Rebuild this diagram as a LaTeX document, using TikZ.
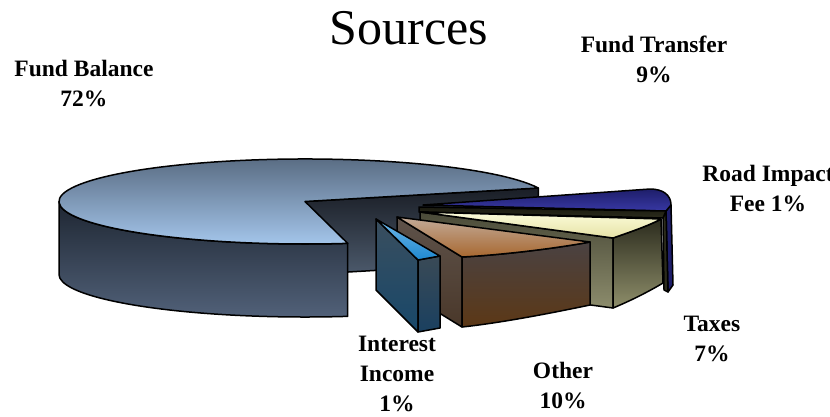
\documentclass[tikz,border=0pt]{standalone}
\usepackage{fontspec}
\setmainfont{Liberation Serif}
\begin{document}
\begin{tikzpicture}[x=1pt,y=-1pt,line join=round,
  outline/.style={draw=black,line width=1.5pt},
  lbl/.style={font=\bfseries\fontsize{23.5}{30}\selectfont,align=center,inner sep=0pt},
  ttl/.style={font=\fontsize{50}{50}\selectfont,inner sep=0pt}]
\definecolor{fbTopA}{HTML}{56687E}\definecolor{fbTopB}{HTML}{A6C8EE}
\definecolor{fbWallA}{HTML}{1E2632}\definecolor{fbWallB}{HTML}{52627A}
\definecolor{fbCutA}{HTML}{1A1E26}\definecolor{fbCutB}{HTML}{4C5A6C}
\definecolor{navyA}{HTML}{1E1E6A}\definecolor{navyB}{HTML}{3838A4}
\definecolor{roadA}{HTML}{1A1A10}\definecolor{roadB}{HTML}{2C2C1C}
\definecolor{taxTopA}{HTML}{FCFCDA}\definecolor{taxTopB}{HTML}{E6E2A6}
\definecolor{taxRimA}{HTML}{2C2C1E}\definecolor{taxRimB}{HTML}{8E8E6A}
\definecolor{taxCutA}{HTML}{4A4A38}\definecolor{taxCutB}{HTML}{8C8C6C}
\definecolor{othTopA}{HTML}{C2AA98}\definecolor{othTopB}{HTML}{A86830}
\definecolor{othRimA}{HTML}{4A4242}\definecolor{othRimB}{HTML}{5C3816}
\definecolor{othCutA}{HTML}{5E524A}\definecolor{othCutB}{HTML}{4A382A}
\definecolor{intTopA}{HTML}{70B8E8}\definecolor{intTopB}{HTML}{1E88D0}
\definecolor{intCutA}{HTML}{3A4E5E}\definecolor{intCutB}{HTML}{18486A}
\definecolor{intRimA}{HTML}{3A4A56}\definecolor{intRimB}{HTML}{1A4060}
\useasboundingbox (0,0) rectangle (830,416);
\clip (0,0) rectangle (830,416);
% Fund Balance slice
\coordinate (C) at (305,201.5);
\coordinate (R1) at (538.3,188);
\coordinate (L1) at (59,201.5);
\path[outline,top color=fbCutA,bottom color=fbCutB] (C) -- (R1) -- ++(0,73) -- (305,274.5) -- cycle;
\path[outline,top color=fbWallA,bottom color=fbWallB] (L1) arc[start angle=-180,end angle=-280,x radius=246,y radius=42.5] -- ++(0,73) arc[start angle=-280,end angle=-180,x radius=246,y radius=42.5] -- cycle;
\path[outline,top color=fbTopA,bottom color=fbTopB] (C) -- (R1) arc[start angle=-18.5,end angle=-280,x radius=246,y radius=42.5] -- cycle;
% Fund Transfer slice
\path[outline,fill=navyA] (666,211) -- (671,205) -- (673,285) -- (668,292) -- cycle;
\path[outline,top color=navyA,bottom color=navyB] (423,205) -- (650,189) .. controls (663,189) and (671,195) .. (671,205) -- (666,211) -- cycle;
% Road Impact Fee slice
\path[outline,fill=roadB] (663,218) -- (666,211) -- (668,292) -- (664,290) -- cycle;
\path[outline,top color=roadA,bottom color=roadB] (419,207) -- (666,211) -- (663,218) -- (419,212) -- cycle;
% Taxes slice
\path[outline,top color=taxCutA,bottom color=taxCutB] (420,212) -- (613,238) -- (613,308) -- (420,282) -- cycle;
\path[outline,top color=taxRimA,bottom color=taxRimB] (613,238) .. controls (630,232) and (648,226) .. (661,219) -- (663,283) .. controls (648,292) and (630,301) .. (613,308) -- cycle;
\path[outline,top color=taxTopA,bottom color=taxTopB] (420,212) -- (661,219) .. controls (648,226) and (630,232) .. (613,238) -- cycle;
% Other slice
\path[outline,top color=othCutA,bottom color=othCutB] (397,217) -- (462,257) -- (462,327) -- (397,287) -- cycle;
\path[outline,top color=othRimA,bottom color=othRimB] (462,257) .. controls (500,255) and (552,249) .. (590,242) -- (590,305) .. controls (552,313) and (500,323) .. (462,327) -- cycle;
\path[outline,top color=othTopA,bottom color=othTopB] (397,217) -- (590,242) .. controls (552,249) and (500,255) .. (462,257) -- cycle;
% Interest Income slice
\path[outline,top color=intCutA,bottom color=intCutB] (376,219) -- (418,260) -- (418,332) -- (376,290) -- cycle;
\path[outline,top color=intRimA,bottom color=intRimB] (418,260) -- (440,256) -- (440,328) -- (418,332) -- cycle;
\path[outline,top color=intTopA,bottom color=intTopB] (376,219) -- (440,256) -- (418,260) -- cycle;
% labels
\node[ttl] (title) at (409,28) {Sources};
\node[lbl] (fb) at (84,83) {Fund Balance\\72\%};
\node[lbl] (ft) at (654,59) {Fund Transfer\\9\%};
\node[lbl] (rif) at (768,188) {Road Impact\\Fee 1\%};
\node[lbl] (tx) at (712,339) {Taxes\\7\%};
\node[lbl] (ii) at (397,374) {Interest\\Income\\1\%};
\node[lbl] (ot) at (563,385) {Other\\10\%};
\end{tikzpicture}
\end{document}
